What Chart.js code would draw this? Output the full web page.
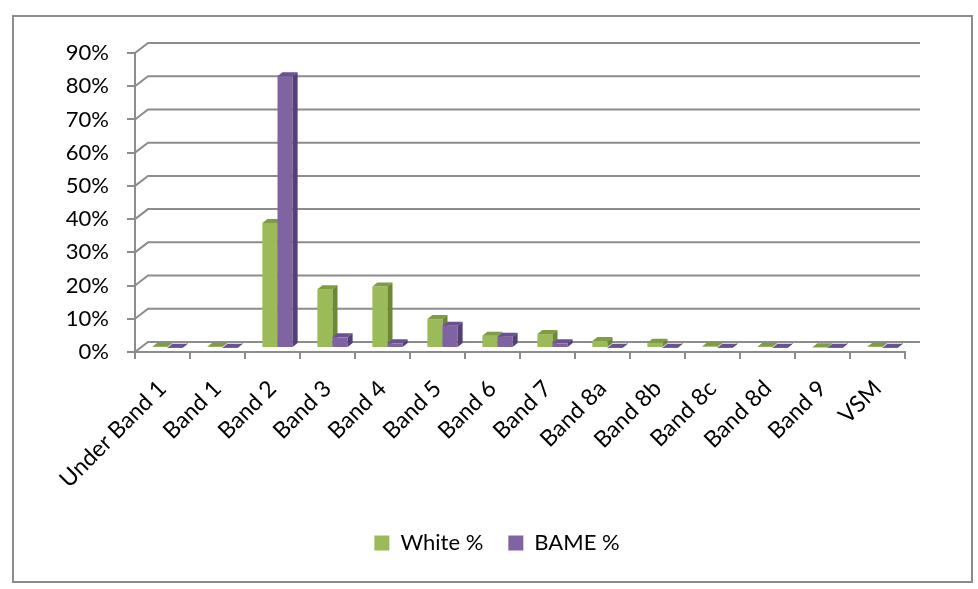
<!DOCTYPE html>
<html>
<head>
<meta charset="utf-8">
<script src="https://cdn.jsdelivr.net/npm/chart.js@4/dist/chart.umd.min.js"></script>
<style>
  html, body { margin: 0; padding: 0; background: #ffffff; }
  #wrap { position: relative; width: 978px; height: 589px; }
</style>
</head>
<body>
<div id="wrap"><canvas id="c" width="978" height="589"></canvas></div>
<script>
// Pay band categories
const bands = ['Under Band 1', 'Band 1', 'Band 2', 'Band 3', 'Band 4', 'Band 5', 'Band 6',
               'Band 7', 'Band 8a', 'Band 8b', 'Band 8c', 'Band 8d', 'Band 9', 'VSM'];

// Share of each group's staff in each band (%)
const whitePct = [0.4, 0.4, 37.6, 17.7, 18.5, 8.7, 3.7, 4.2, 2.1, 1.6, 0.5, 0.4, 0.2, 0.4];
const bamePct  = [0.1, 0.1, 81.8, 3.2, 1.4, 6.7, 3.4, 1.4, 0.1, 0.1, 0.1, 0.1, 0.1, 0.1];

// Value axis ticks
const yTicks = [0, 10, 20, 30, 40, 50, 60, 70, 80, 90];

const GRID = '#8c8c8c';
const FONT = 'Lato, "Open Sans", sans-serif';

// Depth offsets for the pseudo-3D look
const WALL = { dx: 13, dy: -10 };    // back wall relative to the front axes
const BAR_SHIFT = { dx: 5, dy: -4 }; // columns stand in the middle of the floor
const BAR_DEPTH = { dx: 5, dy: -4 }; // thickness of each column

const shades = [
  { front: '#9bbb59', top: '#7f9c45', side: '#6c8736' },  // White %
  { front: '#8064a2', top: '#6a5190', side: '#53407a' }   // BAME %
];

function drawFaces(ctx, meta, sh) {
  meta.data.forEach(el => {
    const { x, y, base, width } = el.getProps(['x', 'y', 'base', 'width'], true);
    const L = x - width / 2, R = x + width / 2;
    // top face
    ctx.fillStyle = sh.top;
    ctx.beginPath();
    ctx.moveTo(L, y);
    ctx.lineTo(R, y);
    ctx.lineTo(R + BAR_DEPTH.dx, y + BAR_DEPTH.dy);
    ctx.lineTo(L + BAR_DEPTH.dx, y + BAR_DEPTH.dy);
    ctx.closePath();
    ctx.fill();
    // right side face
    ctx.fillStyle = sh.side;
    ctx.beginPath();
    ctx.moveTo(R, y);
    ctx.lineTo(R + BAR_DEPTH.dx, y + BAR_DEPTH.dy);
    ctx.lineTo(R + BAR_DEPTH.dx, base + BAR_DEPTH.dy);
    ctx.lineTo(R, base);
    ctx.closePath();
    ctx.fill();
  });
}

// Outer frame, back-wall gridlines and the 3D column faces
const wallPlugin = {
  id: 'wall',
  beforeDraw(chart) {
    const ctx = chart.ctx;
    ctx.save();
    ctx.strokeStyle = GRID;
    ctx.lineWidth = 2;
    ctx.strokeRect(13, 16, 959, 566);
    ctx.restore();
  },
  beforeDatasetsDraw(chart) {
    const { ctx, chartArea, scales } = chart;
    const y = scales.y;
    ctx.save();
    ctx.strokeStyle = GRID;
    ctx.lineWidth = 2;
    yTicks.forEach(v => {
      const py = y.getPixelForValue(v);
      ctx.beginPath();
      ctx.moveTo(chartArea.left, py);
      ctx.lineTo(chartArea.left + WALL.dx, py + WALL.dy);
      ctx.lineTo(chartArea.right + 15, py + WALL.dy);
      ctx.stroke();
    });
    ctx.restore();
  },
  // Chart.js paints the last dataset first; paint left-to-right instead so the
  // right-hand column covers its neighbour's side face.
  beforeDatasetDraw(chart, args) {
    if (args.index !== 0) return false;
    chart.ctx.save();
    chart.ctx.translate(BAR_SHIFT.dx, BAR_SHIFT.dy);
  },
  afterDatasetDraw(chart, args) {
    if (args.index !== 0) return;
    const ctx = chart.ctx;
    drawFaces(ctx, args.meta, shades[0]);
    for (let i = 1; i < chart.data.datasets.length; i++) {
      const meta = chart.getDatasetMeta(i);
      meta.controller.draw();
      drawFaces(ctx, meta, shades[i]);
    }
    ctx.restore();
  }
};

new Chart(document.getElementById('c'), {
  type: 'bar',
  data: {
    labels: bands,
    datasets: [
      { label: 'White %', data: whitePct, backgroundColor: shades[0].front,
        borderWidth: 0, categoryPercentage: 0.55, barPercentage: 1, clip: false },
      { label: 'BAME %', data: bamePct, backgroundColor: shades[1].front,
        borderWidth: 0, categoryPercentage: 0.55, barPercentage: 1, clip: false }
    ]
  },
  options: {
    responsive: false,
    animation: false,
    layout: { padding: { left: 16, right: 0, top: 53, bottom: 25 } },
    plugins: {
      tooltip: { enabled: false },
      legend: {
        position: 'bottom',
        labels: {
          boxWidth: 15, boxHeight: 15, padding: 25,
          color: '#000', font: { family: FONT, size: 22 }
        }
      }
    },
    scales: {
      x: {
        grid: { display: true, drawOnChartArea: false, drawTicks: true, tickLength: 7,
                color: GRID, lineWidth: 2, offset: true },
        border: { display: true, color: GRID, width: 2 },
        ticks: { color: '#000', font: { family: FONT, size: 23 }, minRotation: 45, maxRotation: 45,
                 autoSkip: false, padding: 16 },
        afterFit(scale) { scale.height = 155; }
      },
      y: {
        min: 0, max: 90,
        afterBuildTicks(scale) { scale.ticks = yTicks.map(v => ({ value: v })); },
        grid: { display: true, drawOnChartArea: false, drawTicks: true, tickLength: 8,
                color: GRID, lineWidth: 2 },
        border: { display: true, color: GRID, width: 2 },
        ticks: { color: '#000', font: { family: FONT, size: 22 }, padding: 18,
                 callback: v => v + '%' },
        afterFit(scale) { scale.width = 119; }
      },
      // blank right-hand margin so the floor and gridlines end where the frame needs them
      yRight: {
        position: 'right', min: 0, max: 90,
        grid: { display: false }, border: { display: false },
        ticks: { display: false },
        afterFit(scale) { scale.width = 73; }
      }
    }
  },
  plugins: [wallPlugin]
});
</script>
</body>
</html>
